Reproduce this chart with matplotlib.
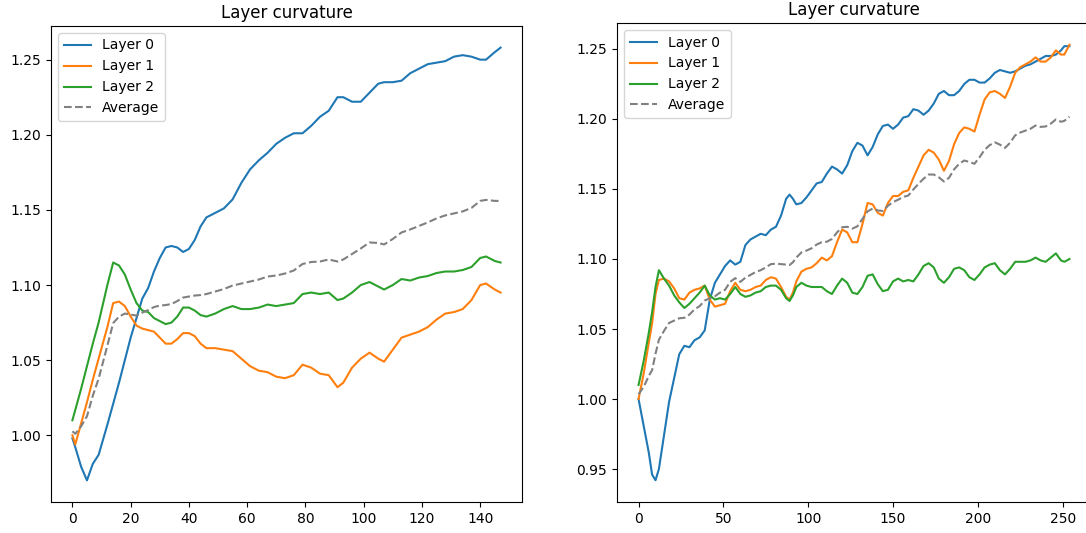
import numpy as np
import matplotlib
matplotlib.use('Agg')
import matplotlib.pyplot as plt

# ---- left run (148 steps) ----
x_left = [0, 1, 3, 5, 7, 9, 12, 14, 16, 18, 20, 22, 24, 26, 28, 30, 32, 34, 36, 38,
          40, 42, 44, 46, 49, 52, 55, 58, 61, 64, 67, 70, 73, 76, 79, 82, 85, 88, 91, 93,
          96, 99, 102, 105, 107, 110, 113, 116, 119, 122, 125, 128, 131, 134, 137, 140,
          142, 145, 147]
layer0_left = [0.998, 0.992, 0.979, 0.970, 0.981, 0.987, 1.007, 1.021, 1.035, 1.050,
               1.065, 1.078, 1.091, 1.098, 1.109, 1.118, 1.125, 1.126, 1.125, 1.122,
               1.124, 1.130, 1.139, 1.145, 1.148, 1.151, 1.157, 1.168, 1.177, 1.183,
               1.188, 1.194, 1.198, 1.201, 1.201, 1.206, 1.212, 1.216, 1.225, 1.225,
               1.222, 1.222, 1.228, 1.234, 1.235, 1.235, 1.236, 1.241, 1.244, 1.247,
               1.248, 1.249, 1.252, 1.253, 1.252, 1.250, 1.250, 1.255, 1.258]
layer1_left = [1.000, 0.994, 1.008, 1.022, 1.037, 1.051, 1.072, 1.088, 1.089, 1.086,
               1.079, 1.073, 1.071, 1.070, 1.069, 1.065, 1.061, 1.061, 1.064, 1.068,
               1.068, 1.066, 1.061, 1.058, 1.058, 1.057, 1.056, 1.051, 1.046, 1.043,
               1.042, 1.039, 1.038, 1.040, 1.047, 1.045, 1.041, 1.040, 1.032, 1.035,
               1.045, 1.051, 1.055, 1.051, 1.049, 1.057, 1.065, 1.067, 1.069, 1.072,
               1.077, 1.081, 1.082, 1.084, 1.090, 1.100, 1.101, 1.097, 1.095]
layer2_left = [1.010, 1.017, 1.031, 1.046, 1.061, 1.075, 1.100, 1.115, 1.113, 1.107,
               1.097, 1.088, 1.083, 1.082, 1.078, 1.076, 1.074, 1.075, 1.079, 1.085,
               1.085, 1.083, 1.080, 1.079, 1.081, 1.084, 1.086, 1.084, 1.084, 1.085,
               1.087, 1.086, 1.087, 1.088, 1.094, 1.095, 1.094, 1.095, 1.090, 1.091,
               1.095, 1.100, 1.102, 1.099, 1.097, 1.100, 1.104, 1.103, 1.105, 1.106,
               1.108, 1.109, 1.109, 1.110, 1.112, 1.118, 1.119, 1.116, 1.115]

# ---- right run (255 steps) ----
x_right = [0, 3, 6, 8, 10, 12, 15, 18, 21, 24, 27, 30, 33, 36, 39, 42, 45, 48, 51, 54,
           57, 60, 63, 66, 69, 72, 75, 78, 81, 84, 87, 89, 91, 93, 96, 99, 102, 105, 108,
           111, 114, 117, 120, 123, 126, 129, 132, 135, 138, 141, 144, 147, 150, 153, 156,
           159, 162, 165, 168, 171, 174, 177, 180, 183, 186, 189, 192, 195, 198, 201, 204,
           207, 210, 213, 216, 219, 222, 225, 228, 231, 234, 237, 240, 243, 246, 249, 251,
           254]
layer0_right = [1.000, 0.981, 0.962, 0.946, 0.942, 0.950, 0.974, 0.998, 1.015, 1.032,
                1.038, 1.037, 1.042, 1.044, 1.049, 1.071, 1.083, 1.089, 1.095, 1.099,
                1.096, 1.098, 1.110, 1.114, 1.116, 1.118, 1.117, 1.121, 1.123, 1.131,
                1.143, 1.146, 1.143, 1.139, 1.140, 1.144, 1.149, 1.154, 1.155, 1.161,
                1.166, 1.164, 1.161, 1.167, 1.177, 1.183, 1.181, 1.174, 1.180, 1.189,
                1.195, 1.196, 1.193, 1.196, 1.201, 1.202, 1.207, 1.206, 1.203, 1.206,
                1.211, 1.218, 1.220, 1.217, 1.217, 1.220, 1.225, 1.228, 1.228, 1.226,
                1.226, 1.229, 1.233, 1.235, 1.234, 1.233, 1.234, 1.236, 1.238, 1.239,
                1.241, 1.243, 1.245, 1.245, 1.246, 1.249, 1.252, 1.252]
layer1_right = [1.000, 1.018, 1.040, 1.054, 1.075, 1.085, 1.086, 1.084, 1.079, 1.072,
                1.071, 1.076, 1.078, 1.079, 1.081, 1.071, 1.066, 1.067, 1.068, 1.077,
                1.083, 1.078, 1.077, 1.078, 1.080, 1.081, 1.085, 1.087, 1.086, 1.080,
                1.073, 1.071, 1.076, 1.084, 1.091, 1.093, 1.094, 1.097, 1.101, 1.099,
                1.102, 1.112, 1.121, 1.119, 1.112, 1.112, 1.125, 1.140, 1.139, 1.133,
                1.131, 1.140, 1.145, 1.145, 1.148, 1.149, 1.158, 1.166, 1.174, 1.178,
                1.176, 1.171, 1.163, 1.170, 1.182, 1.190, 1.194, 1.193, 1.191, 1.203,
                1.214, 1.219, 1.220, 1.218, 1.215, 1.223, 1.233, 1.237, 1.239, 1.241,
                1.244, 1.241, 1.241, 1.244, 1.249, 1.246, 1.246, 1.253]
layer2_right = [1.010, 1.027, 1.047, 1.062, 1.080, 1.092, 1.086, 1.081, 1.074, 1.069,
                1.065, 1.068, 1.072, 1.076, 1.081, 1.074, 1.071, 1.072, 1.071, 1.075,
                1.080, 1.075, 1.073, 1.074, 1.076, 1.077, 1.080, 1.081, 1.081, 1.078,
                1.072, 1.070, 1.074, 1.080, 1.083, 1.081, 1.080, 1.080, 1.080, 1.077,
                1.075, 1.081, 1.086, 1.083, 1.076, 1.075, 1.080, 1.088, 1.089, 1.082,
                1.077, 1.078, 1.084, 1.086, 1.084, 1.085, 1.084, 1.089, 1.095, 1.097,
                1.094, 1.086, 1.083, 1.087, 1.093, 1.094, 1.092, 1.087, 1.085, 1.089,
                1.094, 1.096, 1.097, 1.092, 1.089, 1.093, 1.098, 1.098, 1.098, 1.099,
                1.101, 1.099, 1.098, 1.101, 1.104, 1.099, 1.098, 1.100]

fig = plt.figure(figsize=(10.86, 5.33), dpi=100)
ax_l = fig.add_axes([51 / 1086, 31 / 533, 471 / 1086, 476 / 533])
ax_r = fig.add_axes([617 / 1086, 31 / 533, 474 / 1086, 479 / 533])

panels = [(ax_l, x_left, [layer0_left, layer1_left, layer2_left]),
          (ax_r, x_right, [layer0_right, layer1_right, layer2_right])]

for ax, x, layers in panels:
    for i, y in enumerate(layers):
        ax.plot(x, y, label='Layer %d' % i)
    # average curvature over the layers
    ax.plot(x, np.mean(layers, axis=0), '--', color='gray', label='Average')
    ax.set_title('Layer curvature')
    ax.legend(loc='upper left')

fig.savefig('out.png', dpi=100)
